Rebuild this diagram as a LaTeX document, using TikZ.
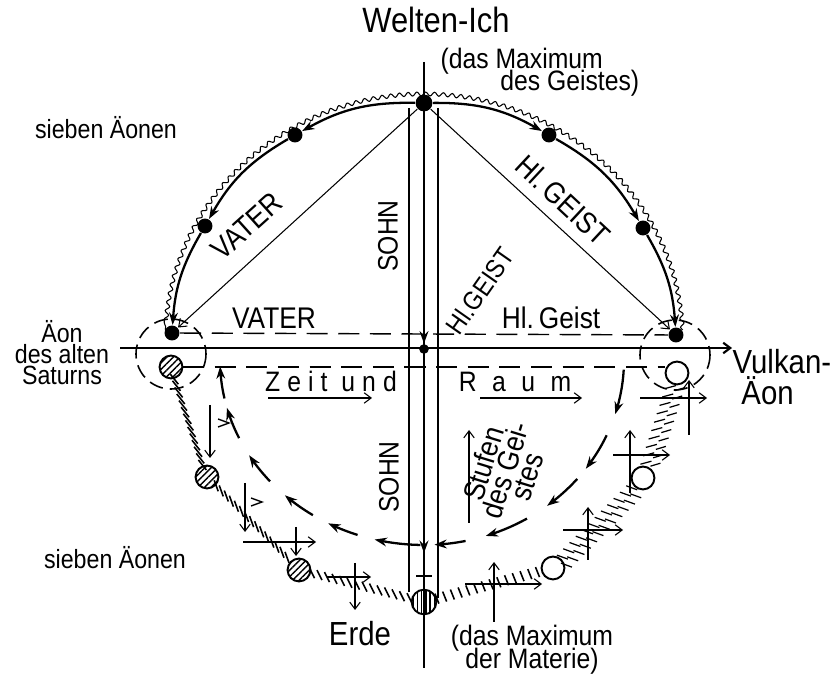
\documentclass[tikz,border=0pt]{standalone}
\usepackage{fontspec}
\newfontfamily\hand[FakeStretch=0.88]{Liberation Sans}
\usetikzlibrary{arrows.meta,decorations.pathmorphing,patterns.meta,calc,positioning}
\tikzset{every picture/.style={line width=0.75pt}}
\tikzset{
  dot/.style={circle,fill=black,inner sep=0pt,minimum size=8.5pt},
  aeon/.style={circle,draw,line width=1.1pt,inner sep=0pt,minimum size=13pt,fill=white},
  hatched/.style={circle,draw,line width=1.1pt,inner sep=0pt,minimum size=13pt,
    pattern={Lines[angle=45,distance=2.6pt,line width=0.8pt]}},
  axis/.style={line width=1.2pt},
  bold/.style={line width=1.3pt},
  arr/.style={-{Stealth[length=7pt,width=5pt]}},
  barb/.style={-{Straight Barb[length=4pt,width=6pt]}},
  hatch/.style={line width=0.9pt},
  dashline/.style={line width=0.8pt,dash pattern=on 12pt off 6pt},
  dashcirc/.style={line width=0.9pt,dash pattern=on 8pt off 4pt},
  txt/.style={inner sep=0pt,font=\hand\fontsize{#1}{#1}\selectfont},
}

\begin{document}
\begin{tikzpicture}[x=0.02cm,y=-0.02cm]
    \useasboundingbox (0,0) rectangle (840,679);

    % upper aeons
    \node[dot,minimum size=9.6pt] (top) at (424,103) {};
    \node[dot] (l1) at (295,135) {};
    \node[dot] (l2) at (205,226) {};
    \node[dot] (l3) at (172,333) {};
    \node[dot] (r1) at (549,135) {};
    \node[dot] (r2) at (643,228) {};
    \node[dot] (r3) at (676,335) {};
    \node[dot,minimum size=5.5pt] (ctr) at (424,349) {};

    % lower aeons
    \node[hatched] (s1) at (171,367) {};
    \node[hatched] (s2) at (207,477) {};
    \node[hatched] (s3) at (299,570) {};
    \node[circle,draw,line width=1.1pt,inner sep=0pt,minimum size=14pt,
      pattern={Lines[angle=90,distance=2.4pt,line width=0.8pt]}] (earth) at (424,602) {};
    \node[aeon] (v1) at (677,373) {};
    \node[aeon] (v2) at (643,478) {};
    \node[aeon] (v3) at (553,568) {};

    % axes
    \coordinate (axL) at (120,348);
    \coordinate (axT) at (424,62);
    \coordinate (axB) at (424,668);
    \node[txt=19pt,anchor=west,align=left] (vulk) at (732,377) {Vulkan-\\[-1pt]\hspace{5pt}Äon};
    \draw[axis,barb] (axL) -- (axL -| vulk.west);
    \draw[axis] (axT) -- (axB);
    \draw[axis,arr] (top) -- (ctr);
    \draw[axis,arr] (ctr) -- (424,553);
    \draw (409,108) -- (409,592);
    \draw (438,108) -- (438,598);

    % cross of the earth
    \draw[line width=1.6pt] (424,566) -- (424,591);
    \draw[line width=1.6pt] (416,576) -- (432,576);

    % outer wavy line
    \draw[line width=0.6pt,decorate,decoration={snake,amplitude=1.1pt,segment length=5pt}]
      plot[domain=3:177,samples=80] ({424+259*cos(\x)},{343-247*sin(\x)});

    % arcs between the aeons
    \draw[bold,arr] (top) to[bend right=15] (l1);
    \draw[bold,arr] (l1) to[bend right=15] (l2);
    \draw[bold,arr] (l2) to[bend right=13] (l3);
    \draw[bold,arr] (top) to[bend left=15] (r1);
    \draw[bold,arr] (r1) to[bend left=15] (r2);
    \draw[bold,arr] (r2) to[bend left=13] (r3);

    % diagonals
    \draw[line width=0.6pt,barb] (top) -- (l3);
    \draw[line width=0.6pt,barb] (top) -- (r3);

    % dashed levels
    \draw[dashline] (l3) -- (r3);
    \draw[dashline] (s1) -- (s1 -| v1.west);
    \draw[dashcirc] (171,354) circle[radius=35];
    \draw[dashcirc] (675,355) circle[radius=35];

    % dashed circle of the lower aeons
    \foreach \a/\b in {12/2,25/15,41/31,57/47,71/62,89/76}
        \draw[bold,arr] plot[domain=\a:\b,samples=8] ({424-204*cos(\x)},{360+185*sin(\x)});
    \foreach \a/\b in {3/17,24/36,40/52,59/72,78/87}
        \draw[bold,arr] plot[domain=\a:\b,samples=8] ({424+200*cos(\x)},{360+185*sin(\x)});

    % shadow trails
    \foreach \t in {0.12,0.18,...,0.9}
        \draw[hatch] ($(s1)!\t!(s2)$) ++(-5,-6) -- ++(8,10);
    \foreach \t in {0.1,0.155,...,0.9}
        \draw[hatch] ($(s2)!\t!(s3)$) ++(-2,-6) -- ++(4,11);
    \foreach \t in {0.1,0.16,...,0.92}
        \draw[hatch] ($(s3)!\t!(earth)$) ++(-2,-5) -- ++(5,10);
    \foreach \t in {0.12,0.2,...,0.9} {
        \draw[hatch,line width=0.7pt] ($(v1)!\t!(v2)$) ++(-8,3) -- ++(11,-3);
        \draw[hatch,line width=0.7pt] ($(v1)!\t!(v2)$) ++(2,5) -- ++(10,-3);
    }
    \foreach \t in {0.12,0.19,...,0.9} {
        \draw[hatch,line width=0.7pt] ($(v2)!\t!(v3)$) ++(-6,-3) -- ++(11,4);
        \draw[hatch,line width=0.7pt] ($(v2)!\t!(v3)$) ++(-2,5) -- ++(11,4);
    }
    \foreach \t in {0.1,0.16,...,0.92}
        \draw[hatch] ($(earth)!\t!(v3)$) ++(-2,-5) -- ++(4,10);

    % small arrows along the trails
    \foreach \x/\ya/\yb in {210/405/458,245/483/532,296/527/556,355/563/610,
                            689/435/380,630/493/430,588/560/507,494/622/562}
        \draw[line width=0.6pt,barb] (\x,\ya) -- (\x,\yb);
    \foreach \xa/\xb/\y in {243/316/542,327/371/577,640/707/398,
                            613/670/455,563/623/530,465/542/584}
        \draw[line width=0.6pt,barb] (\xa,\y) -- (\xb,\y);
    \draw[line width=0.8pt] (218,419) -- (229,423) -- (218,427);
    \draw[line width=0.8pt] (251,498) -- (262,502) -- (251,506);

    % time and space
    \draw[line width=0.6pt,barb] (268,398) -- (372,398);
    \draw[line width=0.6pt,barb] (480,398) -- (582,398);
    \draw[line width=0.6pt,barb] (469,523) -- (469,430);

    % labels
    \node[txt=20pt] (weltich) at (436,20) {Welten-Ich};
    \node[txt=16pt,anchor=north west,align=left] (maxg) at (440,47)
      {(das Maximum\\[-3pt]\hspace{34pt}des Geistes)};
    \node[txt=15pt] (sieben1) at (106,128) {sieben Äonen};
    \node[txt=15pt] (sieben2) at (115,558) {sieben Äonen};
    \node[txt=15pt,align=center] (saturn) at (62,353) {Äon\\[-3pt]des alten\\[-3pt]Saturns};
    \node[txt=17pt,rotate=42] (vater1) at (247,226) {VATER};
    \node[txt=17pt] (vater2) at (274,318) {VATER};
    \node[txt=16pt,rotate=90] (sohn1) at (388,236) {SOHN};
    \node[txt=16pt,rotate=90] (sohn2) at (389,477) {SOHN};
    \node[txt=17pt,rotate=-43] (geist1) at (563,200) {Hl.\,GEIST};
    \node[txt=15pt,rotate=55] (geist2) at (480,291) {Hl.GEIST};
    \node[txt=17pt] (geist3) at (551,318) {Hl.\,Geist};
    \node[txt=16pt] (zeit) at (331,381) {\addfontfeature{LetterSpace=25}Zeit und};
    \node[txt=16pt] (raum) at (515,382) {\addfontfeature{LetterSpace=55}Raum};
    \node[txt=17pt,rotate=73,align=center] (stufen) at (505,470)
      {Stufen\\[-4pt]des Gei-\\[-4pt]stes};
    \node[txt=19pt] (erde) at (360,634) {Erde};
    \node[txt=16pt,align=center] (maxm) at (532,650) {(das Maximum\\[-3pt]der Materie)};
\end{tikzpicture}
\end{document}
